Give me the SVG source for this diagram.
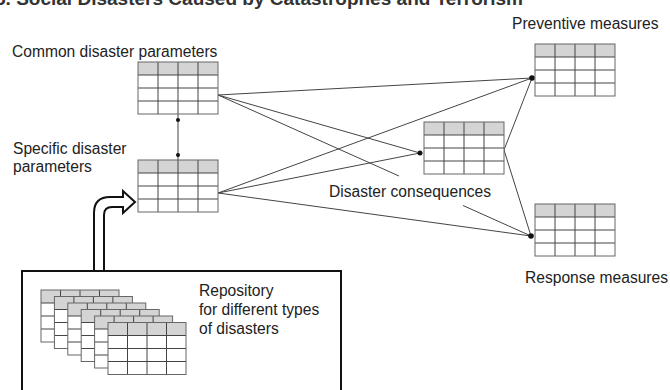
<svg xmlns="http://www.w3.org/2000/svg" xmlns:xlink="http://www.w3.org/1999/xlink" width="670" height="390" viewBox="0 0 670 390">
<style>
  .lbl{font-family:"Liberation Sans",Arial,sans-serif;font-size:15.6px;fill:#222}
  .title{font-family:"Liberation Sans",Arial,sans-serif;font-size:18px;font-weight:bold;fill:#333}
  .hdr{fill:#d4d4d4;stroke:none}
  .body{fill:#fff;stroke:none}
  .grid{stroke:#444;stroke-width:1;fill:none}
  .frame{stroke:#666;stroke-width:1;fill:none}
  .conn{stroke:#444;stroke-width:1;fill:none}
  .dot{fill:#111}
</style>
<defs>
  <g id="tbl">
    <rect class="body" x="0" y="0" width="80" height="52"/>
    <rect class="hdr" x="0" y="0" width="80" height="13"/>
    <path class="grid" d="M0,13H80M0,26H80M0,39H80M20,0V52M40,0V52M60,0V52"/>
    <rect class="frame" x="0" y="0" width="80" height="52"/>
  </g>
  <g id="tblS">
    <rect class="body" x="0" y="0" width="78" height="52"/>
    <rect class="hdr" x="0" y="0" width="78" height="13"/>
    <path class="grid" d="M0,13H78M0,26H78M0,39H78M19.5,0V52M39,0V52M58.5,0V52"/>
    <rect class="frame" x="0" y="0" width="78" height="52"/>
  </g>
</defs>
<rect x="0" y="0" width="670" height="390" fill="#fff"/>
<text class="title" x="-5" y="5" textLength="528" lengthAdjust="spacingAndGlyphs">5. Social Disasters Caused by Catastrophes and Terrorism</text>

<g id="connectors">
  <line class="conn" x1="178" y1="114" x2="178" y2="160"/>
  <circle class="dot" cx="178" cy="120" r="2"/>
  <circle class="dot" cx="178" cy="155" r="2"/>
  <line class="conn" x1="218" y1="95" x2="532" y2="78"/>
  <line class="conn" x1="218" y1="95" x2="420" y2="153"/>
  <line class="conn" x1="218" y1="95" x2="399" y2="176"/>
  <line class="conn" x1="463" y1="205.5" x2="531" y2="236"/>
  <line class="conn" x1="218" y1="193" x2="532" y2="78"/>
  <line class="conn" x1="218" y1="193" x2="420" y2="153"/>
  <line class="conn" x1="218" y1="193" x2="531" y2="236"/>
  <line class="conn" x1="504" y1="150" x2="532" y2="78"/>
  <line class="conn" x1="504" y1="150" x2="531" y2="236"/>
  <circle class="dot" cx="420" cy="153" r="2.5"/>
  <circle class="dot" cx="532" cy="78" r="2.8"/>
  <circle class="dot" cx="531" cy="236" r="2.8"/>
  <path d="M94,271 L94,213 Q94,197 110,197 L123,197 L123,191 L135,202 L123,213 L123,207 L112,207 Q104,207 104,215 L104,271" fill="#fff" stroke="#111" stroke-width="2" stroke-linejoin="miter"/>
</g>

<g id="common">
  <text class="lbl" x="12" y="57">Common disaster parameters</text>
  <use xlink:href="#tbl" x="138" y="62"/>
</g>
<g id="specific">
  <text class="lbl" x="13" y="154">Specific disaster</text>
  <text class="lbl" x="13" y="172">parameters</text>
  <use xlink:href="#tbl" x="138" y="160"/>
</g>
<g id="consequences">
  <use xlink:href="#tbl" x="424" y="122"/>
  <text class="lbl" x="329" y="197">Disaster consequences</text>
</g>
<g id="preventive">
  <text class="lbl" x="512" y="29">Preventive measures</text>
  <use xlink:href="#tbl" x="535" y="44"/>
</g>
<g id="response">
  <use xlink:href="#tbl" x="535" y="204"/>
  <text class="lbl" x="525" y="283">Response measures</text>
</g>
<g id="repository">
  <rect x="22" y="271" width="319" height="140" fill="#fff" stroke="#111" stroke-width="2"/>
  <use xlink:href="#tblS" x="41" y="290"/>
  <use xlink:href="#tblS" x="54.4" y="296.5"/>
  <use xlink:href="#tblS" x="67.8" y="303"/>
  <use xlink:href="#tblS" x="81.2" y="309.5"/>
  <use xlink:href="#tblS" x="94.6" y="316"/>
  <use xlink:href="#tblS" x="108" y="322.5"/>
  <text class="lbl" x="199" y="296">Repository</text>
  <text class="lbl" x="199" y="315">for different types</text>
  <text class="lbl" x="199" y="334">of disasters</text>
</g>
</svg>
